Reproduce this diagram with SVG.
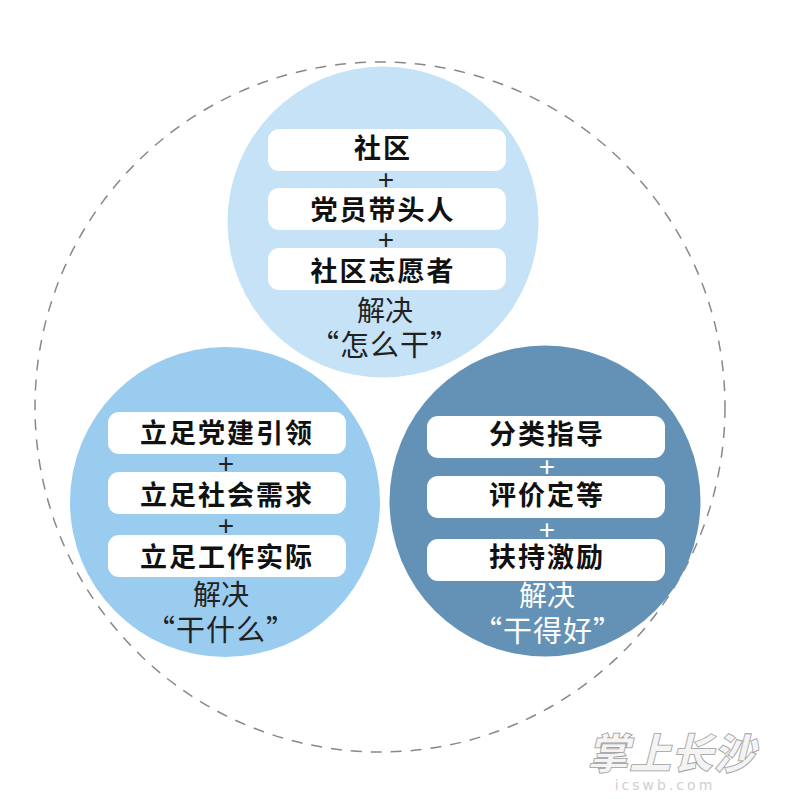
<svg xmlns="http://www.w3.org/2000/svg" width="786" height="799" viewBox="0 0 786 799">
<style>
.pill{fill:#fff}
.h{font-family:"Noto Sans CJK SC","Liberation Sans",sans-serif;font-size:27px;font-weight:700;fill:#111;text-anchor:middle;letter-spacing:2px}
.p{font-family:"Liberation Sans","Noto Sans CJK SC",sans-serif;font-size:28px;fill:#222;text-anchor:middle}
.s{font-family:"Noto Sans CJK SC","Liberation Sans",sans-serif;font-size:28px;font-weight:400;fill:#222;text-anchor:middle}
.q{letter-spacing:1px;font-size:29px}
.w{fill:#fff}
.wm{font-family:"Noto Sans CJK SC",sans-serif;font-weight:900;font-style:italic;font-size:42px;fill:#f4f4f4;stroke:#a0a0a0;stroke-width:.8;text-anchor:middle}
.wu{font-family:"DejaVu Sans",sans-serif;font-size:14px;fill:#cfcfcf;text-anchor:middle;letter-spacing:3px}
</style>
<rect width="786" height="799" fill="#fff"/>
<g id="connectors"><circle cx="380" cy="407" r="345" fill="none" stroke="#888" stroke-width="1.5" stroke-dasharray="11 9"/></g>
<g id="node-top">
<circle cx="383" cy="222" r="155.500" fill="#c5e2f7"/>
<rect class="pill" x="268" y="129" width="238" height="42" rx="11"/>
<rect class="pill" x="268" y="188" width="238" height="42" rx="11"/>
<rect class="pill" x="268" y="248" width="238" height="42" rx="11"/>
<text class="h" x="383" y="158">社区</text>
<text class="p" x="386" y="189">+</text>
<text class="h" x="383" y="220">党员带头人</text>
<text class="p" x="386" y="249">+</text>
<text class="h" x="383" y="281">社区志愿者</text>
<text class="s" x="385" y="321">解决</text>
<text class="s q" x="385" y="356">“怎么干”</text>
</g>
<g id="node-left">
<circle cx="225" cy="502" r="155" fill="#9accf0"/>
<rect class="pill" x="108" y="412" width="238" height="42" rx="11"/>
<rect class="pill" x="108" y="472" width="238" height="42" rx="11"/>
<rect class="pill" x="108" y="535" width="238" height="42" rx="11"/>
<text class="h" x="227" y="443">立足党建引领</text>
<text class="p" x="226" y="473">+</text>
<text class="h" x="227" y="505">立足社会需求</text>
<text class="p" x="226" y="535">+</text>
<text class="h" x="227" y="567">立足工作实际</text>
<text class="s" x="221" y="605">解决</text>
<text class="s q" x="221" y="641">“干什么”</text>
</g>
<g id="node-right">
<circle cx="545" cy="501" r="155.500" fill="#6492b6"/>
<rect class="pill" x="427" y="416" width="238" height="42" rx="11"/>
<rect class="pill" x="427" y="476" width="238" height="42" rx="11"/>
<rect class="pill" x="427" y="539" width="238" height="42" rx="11"/>
<text class="h" x="547" y="444">分类指导</text>
<text class="p w" x="547" y="476">+</text>
<text class="h" x="547" y="505">评价定等</text>
<text class="p w" x="547" y="539">+</text>
<text class="h" x="547" y="567">扶持激励</text>
<text class="s w" x="547" y="606">解决</text>
<text class="s q w" x="548" y="642">“干得好”</text>
</g>
<g id="watermark">
<text class="wm" x="671" y="769">掌上长沙</text>
<text class="wu" x="665" y="790">icswb.com</text>
</g>
</svg>
